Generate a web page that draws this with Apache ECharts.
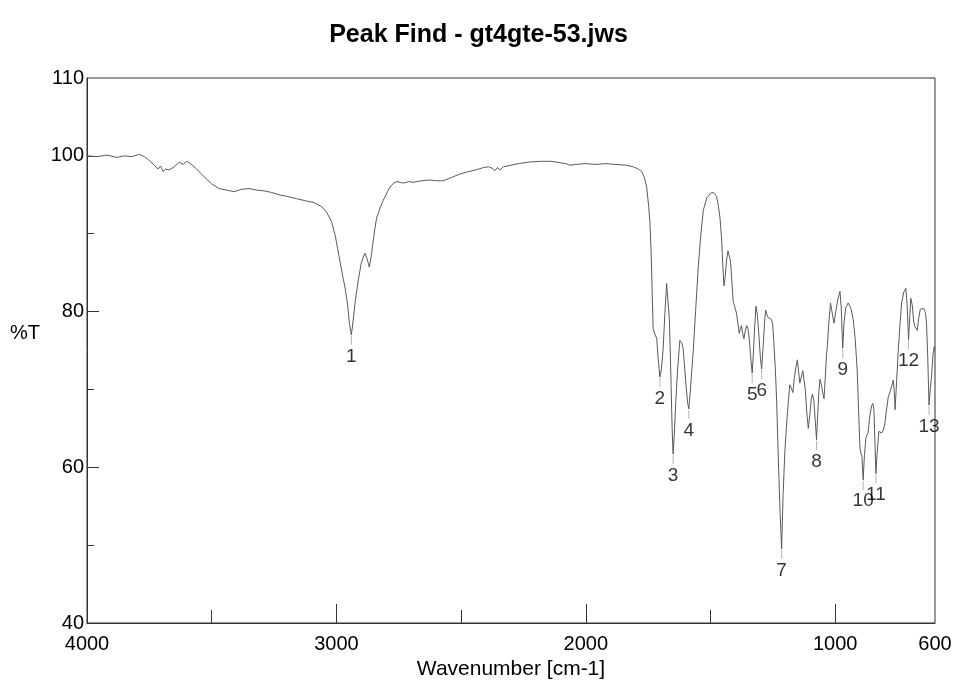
<!DOCTYPE html>
<html>
<head>
<meta charset="utf-8">
<title>Peak Find - gt4gte-53.jws</title>
<style>
  html, body { margin: 0; padding: 0; background: #ffffff; }
  #chart { width: 957px; height: 685px; }
</style>
<script src="https://cdn.jsdelivr.net/npm/echarts@6/dist/echarts.min.js"></script>
</head>
<body>
<div id="chart"></div>
<script>
// IR spectrum: wavenumber (cm-1) and transmittance (%T)
const wavenumber = [
  4000, 3960, 3920, 3880, 3850, 3820, 3790, 3770, 3750, 3730, 3715, 3705, 3695, 3685, 3670,
  3650, 3630, 3615, 3600, 3585, 3560, 3530, 3500, 3470, 3440, 3410, 3380, 3350, 3320, 3290,
  3260, 3230, 3200, 3160, 3120, 3090, 3060, 3040, 3020, 3005, 2990, 2975, 2965, 2955, 2948,
  2940, 2933, 2925, 2912, 2900, 2886, 2877, 2868, 2860, 2852, 2845, 2839, 2825, 2812, 2795,
  2785, 2770, 2758, 2730, 2710, 2692, 2660, 2625, 2600, 2572, 2540, 2510, 2480, 2440, 2410,
  2390, 2375, 2365, 2355, 2345, 2330, 2300, 2270, 2230, 2180, 2140, 2100, 2080, 2064, 2040,
  2000, 1960, 1920, 1880, 1840, 1810, 1790, 1776, 1765, 1756, 1748, 1743, 1738, 1734, 1730,
  1722, 1716, 1710, 1703, 1697, 1690, 1683, 1676, 1672, 1665, 1658, 1654, 1650, 1645, 1639,
  1632, 1623, 1616, 1610, 1604, 1599, 1592, 1587, 1581, 1575, 1569, 1560, 1549, 1540, 1529,
  1515, 1500, 1489, 1476, 1468, 1462, 1456, 1450, 1446, 1441, 1436, 1430, 1425, 1420, 1415,
  1409, 1403, 1396, 1390, 1385, 1380, 1376, 1371, 1366, 1361, 1355, 1350, 1345, 1340, 1333,
  1328, 1323, 1318, 1312, 1305, 1300, 1295, 1289, 1283, 1279, 1274, 1268, 1262, 1256, 1251,
  1246, 1240, 1235, 1229, 1222, 1215, 1209, 1202, 1195, 1188, 1182, 1176, 1170, 1164, 1158,
  1152, 1147, 1142, 1136, 1130, 1126, 1120, 1114, 1108, 1101, 1096, 1091, 1086, 1080, 1075,
  1070, 1065, 1061, 1055, 1050, 1045, 1040, 1035, 1031, 1026, 1019, 1012, 1005, 998, 990,
  981, 976, 970, 965, 958, 948, 938, 928, 920, 912, 906, 901, 897, 893, 888,
  883, 877, 872, 868, 862, 854, 849, 845, 841, 837, 832, 825, 820, 814, 807,
  801, 794, 787, 780, 774, 767, 763, 760, 754, 747, 740, 734, 725, 717, 712,
  706, 701, 697, 691, 686, 681, 676, 671, 665, 659, 654, 645, 638, 634, 629,
  624, 619, 614, 608, 603, 600
];
const transmittance = [
  100.0, 99.9, 100.1, 99.8, 100.0, 99.9, 100.2, 99.9, 99.4, 98.8, 98.3, 98.7, 98.0, 98.3, 98.2,
  98.6, 99.2, 98.9, 99.3, 99.0, 98.3, 97.3, 96.4, 95.8, 95.6, 95.4, 95.7, 95.8, 95.6, 95.5,
  95.3, 95.0, 94.8, 94.5, 94.2, 94.0, 93.5, 92.8, 91.6, 89.8, 87.2, 84.6, 83.0, 80.8, 78.5,
  77.0, 78.8, 81.2, 84.1, 86.3, 87.5, 86.8, 85.7, 87.2, 89.2, 90.8, 92.0, 93.3, 94.3, 95.4,
  96.0, 96.5, 96.7, 96.5, 96.7, 96.6, 96.8, 96.9, 96.8, 96.8, 97.2, 97.6, 97.9, 98.2, 98.5,
  98.6, 98.4, 98.1, 98.5, 98.2, 98.6, 98.8, 99.0, 99.2, 99.3, 99.3, 99.1, 99.0, 98.8, 98.9,
  99.0, 98.9, 99.0, 98.9, 98.8, 98.6, 98.3, 98.0, 97.2, 96.0, 93.5, 91.5, 87.5, 82.5, 77.8,
  77.0, 76.6, 74.0, 71.6, 72.6, 75.2, 79.8, 83.6, 83.4, 79.0, 70.5, 65.0, 61.7, 64.5, 68.6,
  72.5, 76.3, 76.0, 75.3, 73.0, 70.8, 68.3, 67.5, 69.8, 72.5, 75.1, 80.0, 85.8, 89.5, 93.0,
  94.6, 95.2, 95.3, 94.8, 93.5, 92.0, 89.5, 85.5, 83.3, 84.5, 86.5, 87.8, 87.9, 86.5, 84.2,
  81.3, 80.6, 79.8, 78.5, 77.2, 77.8, 78.2, 77.2, 76.5, 77.5, 78.2, 77.8, 76.6, 74.5, 72.1,
  74.8, 78.0, 80.7, 79.5, 76.5, 74.0, 72.6, 75.5, 78.8, 80.2, 79.6, 79.2, 79.4, 79.0, 78.4,
  76.0, 72.5, 68.6, 62.0, 55.0, 49.5, 56.5, 62.0, 65.5, 68.5, 70.6, 70.2, 69.6, 71.5, 72.8,
  73.8, 72.3, 70.8, 71.6, 72.4, 72.2, 70.0, 67.0, 65.0, 67.0, 68.8, 69.4, 68.6, 66.0, 63.5,
  67.0, 70.0, 71.3, 70.5, 69.5, 68.8, 71.5, 74.5, 75.8, 78.5, 81.1, 79.8, 78.5, 80.0, 81.5,
  82.6, 80.5, 75.3, 78.5, 80.5, 81.1, 80.5, 79.0, 76.5, 72.5, 67.0, 62.5, 61.8, 61.4, 58.4,
  61.5, 63.8, 64.2, 64.5, 66.5, 67.9, 68.2, 67.4, 63.5, 59.2, 61.8, 64.6, 64.8, 64.4, 64.8,
  65.6, 67.5, 69.1, 69.7, 69.9, 71.2, 69.5, 67.4, 71.0, 75.1, 78.5, 81.1, 82.5, 83.0, 81.0,
  76.4, 79.5, 81.7, 80.8, 78.8, 78.1, 78.0, 77.6, 79.2, 80.3, 80.4, 80.4, 79.8, 78.5, 74.0,
  68.0, 70.0, 71.6, 74.5, 75.5, 75.0
];

// Peaks found (number, position, %T at the minimum)
const peakNumbers = [1, 2, 3, 4, 5, 6, 7, 8, 9, 10, 11, 12, 13];
const peakWavenumber = [2940, 1703, 1650, 1587, 1333, 1295, 1215, 1075, 970, 888, 837, 706, 624];
const peakTransmittance = [77.0, 71.6, 61.7, 67.5, 72.1, 72.6, 49.5, 63.5, 75.3, 58.4, 59.2, 76.4, 68.0];

// Axis labels and tick marks
const xLabelValues = [4000, 3000, 2000, 1000, 600];
const xMajorTicks = [3000, 2000, 1000];
const xMinorTicks = [3500, 2500, 1500];
const yLabelValues = [110, 100, 80, 60, 40];
const yMajorTicks = [100, 80, 60];
const yMinorTicks = [90, 70, 50];

const FONT = '"Liberation Sans", Arial, Helvetica, sans-serif';
const spectrum = wavenumber.map((w, i) => [w, transmittance[i]]);
const peaks = peakNumbers.map((n, i) => [peakWavenumber[i], peakTransmittance[i], n]);

const chart = echarts.init(document.getElementById('chart'), null, { renderer: 'canvas' });

const baseX = {
  type: 'value', min: 600, max: 4000, inverse: true, position: 'bottom',
  splitLine: { show: false }
};
const baseY = {
  type: 'value', min: 40, max: 110, position: 'left',
  splitLine: { show: false }
};

chart.setOption({
  animation: false,
  backgroundColor: '#ffffff',
  title: {
    text: 'Peak Find - gt4gte-53.jws',
    left: 'center', top: 18,
    textStyle: { fontFamily: FONT, fontSize: 25, fontWeight: 'bold', color: '#000' }
  },
  grid: {
    left: 87, right: 22, top: 78, bottom: 62,
    show: true, borderColor: '#333', borderWidth: 1, backgroundColor: 'transparent'
  },
  // y-axis title, placed level with the 77 %T mark as on the printed sheet
  graphic: [
    {
      type: 'text', left: 10, top: 323,
      style: { text: '%T', fontFamily: FONT, fontSize: 20, fill: '#000' }
    }
  ],
  xAxis: [
    Object.assign({}, baseX, {
      name: 'Wavenumber [cm-1]', nameLocation: 'middle', nameGap: 33,
      nameTextStyle: { fontFamily: FONT, fontSize: 21, color: '#000' },
      axisLine: { show: true, onZero: false, lineStyle: { color: '#333', width: 1 } },
      axisTick: { show: true, inside: true, length: 19, customValues: xMajorTicks, lineStyle: { color: '#333' } },
      axisLabel: {
        show: true, customValues: xLabelValues, margin: 11,
        formatter: v => String(v),
        fontFamily: FONT, fontSize: 20, color: '#000'
      }
    }),
    Object.assign({}, baseX, {
      axisLine: { show: false },
      axisTick: { show: true, inside: true, length: 13, customValues: xMinorTicks, lineStyle: { color: '#333' } },
      axisLabel: { show: false }
    })
  ],
  yAxis: [
    Object.assign({}, baseY, {
      axisLine: { show: true, onZero: false, lineStyle: { color: '#333', width: 1 } },
      axisTick: { show: true, inside: true, length: 12, customValues: yMajorTicks, lineStyle: { color: '#333' } },
      axisLabel: {
        show: true, customValues: yLabelValues, margin: 3,
        formatter: v => String(v),
        fontFamily: FONT, fontSize: 20, color: '#000'
      }
    }),
    Object.assign({}, baseY, {
      axisLine: { show: false },
      axisTick: { show: true, inside: true, length: 7, customValues: yMinorTicks, lineStyle: { color: '#333' } },
      axisLabel: { show: false }
    })
  ],
  series: [
    {
      name: 'Spectrum', type: 'line', data: spectrum,
      xAxisIndex: 0, yAxisIndex: 0,
      showSymbol: false, smooth: false,
      lineStyle: { color: '#5a5a5a', width: 1 },
      emphasis: { disabled: true }
    },
    {
      name: 'Peaks', type: 'scatter', data: peaks,
      xAxisIndex: 0, yAxisIndex: 0,
      symbol: 'rect', symbolSize: [1, 9], symbolOffset: [0, '60%'],
      itemStyle: { color: '#a0a0a0' },
      label: {
        show: true, position: 'bottom', distance: 2,
        formatter: p => String(p.data[2]),
        fontFamily: FONT, fontSize: 19, color: '#000'
      },
      emphasis: { disabled: true }
    }
  ]
});
</script>
</body>
</html>
